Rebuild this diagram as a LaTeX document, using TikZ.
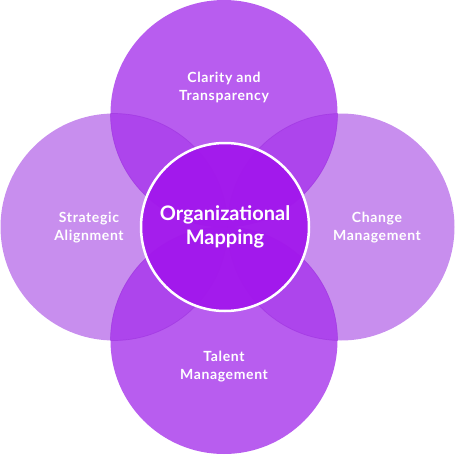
\documentclass[tikz,border=0pt]{standalone}
\usepackage{fontspec}
\setmainfont{Lato}
\newfontfamily\spacedfont[LetterSpace=4.5]{Lato}
\definecolor{sidefill}{HTML}{C88EEE}
\definecolor{vertfill}{HTML}{B85DEF}
\definecolor{overlapfill}{HTML}{AD45EC}
\definecolor{corefill}{HTML}{A217EC}
\definecolor{rimline}{HTML}{9A2EDC}
\tikzset{
  label/.style={text=white, font=\spacedfont\bfseries\fontsize{14}{18}\selectfont, align=center},
  corelabel/.style={text=white, font=\bfseries\fontsize{20}{24}\selectfont, align=center}
}
\begin{document}
\begin{tikzpicture}[x=1pt, y=-1pt]
  \useasboundingbox (0,0) rectangle (455,455);
  \def\R{113.5}
  % outer circles
  \fill[sidefill] (114,227) circle (\R) (341,227) circle (\R);
  \fill[vertfill] (224,113.5) circle (\R) (224,340.5) circle (\R);
  \foreach \y in {113.5,340.5} {
    \begin{scope}
      \clip (224,\y) circle (\R);
      \fill[overlapfill] (114,227) circle (\R) (341,227) circle (\R);
      \draw[rimline, line width=0.7, opacity=0.5] (114,227) circle (\R) (341,227) circle (\R);
    \end{scope}
  }
  \foreach \x in {114,341} {
    \begin{scope}
      \clip (\x,227) circle (\R);
      \draw[rimline, line width=0.7, opacity=0.5] (224,113.5) circle (\R) (224,340.5) circle (\R);
    \end{scope}
  }
  % centre
  \fill[corefill, fill opacity=0.94] (225,227) circle (84);
  \draw[white, line width=2.5] (225,227) circle (84);
  \node[corelabel] (core) at (225,227) {Organizational\\Mapping};
  \node[label] (clarity) at (224,87) {Clarity and\\Transparency};
  \node[label] (talent) at (224,367) {Talent\\Management};
  \node[label] (strategic) at (89,228) {Strategic\\Alignment};
  \node[label] (change) at (377,228) {Change\\Management};
\end{tikzpicture}
\end{document}
